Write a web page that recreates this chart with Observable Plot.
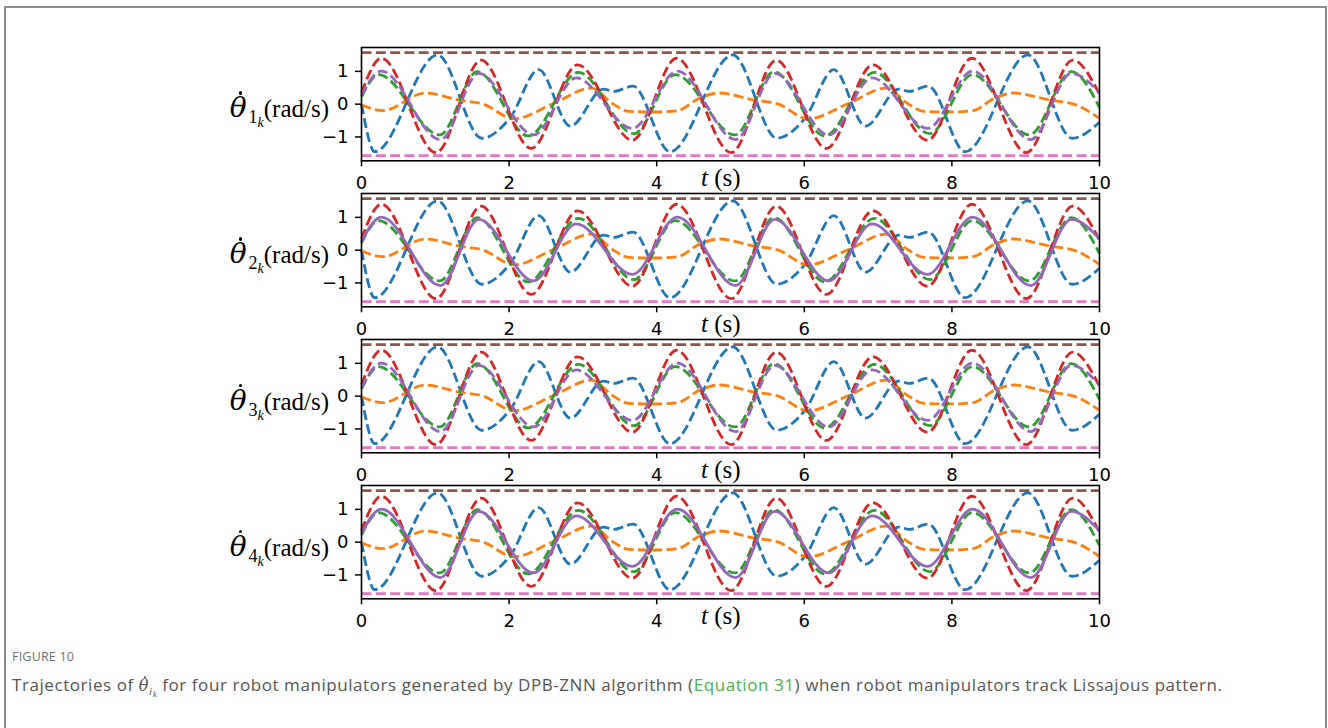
<!DOCTYPE html>
<html><head><meta charset="utf-8">
<script src="https://cdn.jsdelivr.net/npm/d3@7"></script>
<script src="https://cdn.jsdelivr.net/npm/@observablehq/plot@0.6"></script>
<style>
html,body{margin:0;padding:0;background:#fff;}
#border{position:absolute;left:4px;top:6px;width:1323px;height:760px;border:2px solid #8c8c8c;box-sizing:border-box;}
.chart{position:absolute;left:0;}
.chart text{font-family:"DejaVu Sans",sans-serif !important;}
.ylab{position:absolute;font-family:"Liberation Serif",serif;font-size:25px;line-height:25px;white-space:nowrap;color:#000;}
.th{position:relative;display:inline-block;font-family:"DejaVu Serif",serif;font-style:italic;font-size:28px;margin-right:2px;}
.th .dot{position:absolute;left:9px;top:-4px;width:3.8px;height:3.8px;border-radius:50%;background:#000;}
.xlab{position:absolute;font-family:"Liberation Serif",serif;font-size:25px;line-height:25px;white-space:nowrap;color:#000;}
.cap1{position:absolute;left:12px;top:648px;font-family:"Open Sans",sans-serif;font-size:12.5px;color:#707070;letter-spacing:0.2px;}
.cap2{position:absolute;left:12px;top:673px;font-family:"Open Sans",sans-serif;font-size:17px;letter-spacing:0.57px;color:#555;white-space:nowrap;}
.cap2 a{color:#4caf50;text-decoration:none;}
.cth{position:relative;display:inline-block;font-family:"DejaVu Serif",serif;font-style:italic;font-size:16px;}
.cth .cdot{position:absolute;left:5px;top:0px;width:2.2px;height:2.2px;border-radius:50%;background:#555;}
</style></head><body>
<div id="border"></div>
<div id="charts"></div>
<div class="cap1">FIGURE 10</div>
<div class="cap2">Trajectories of <span class="cth">θ<span class="cdot"></span></span><span style="position:relative;top:4px;font-size:11px;font-family:'Liberation Serif',serif"><i>i</i><span style="position:relative;top:2px;font-size:9px"><i>k</i></span></span> for four robot manipulators generated by DPB-ZNN algorithm (<a>Equation 31</a>) when robot manipulators track Lissajous pattern.</div>
<script>
// ---- data ----
const xTicks = [0, 2, 4, 6, 8, 10];
const yTicks = [-1, 0, 1];
const jointIndex = ["1", "2", "3", "4"];
const purpleSolid = [false, true, false, true];

const tBlue = [0, 0.18, 1.03, 1.63, 2.01, 2.40, 2.83, 3.28, 3.42, 3.68, 4.18, 5.03, 5.63, 6.01, 6.40, 6.83, 7.28, 7.42, 7.68, 8.18, 9.03, 9.63, 10];
const vBlue = [0, -1.45, 1.50, -1.04, -0.43, 1.05, -0.67, 0.46, 0.39, 0.55, -1.45, 1.50, -1.04, -0.43, 1.05, -0.67, 0.46, 0.39, 0.55, -1.45, 1.50, -1.04, -0.55];

const tOrange = [0, 0.29, 0.86, 1.33, 1.65, 2.07, 2.60, 3.12, 3.40, 3.62, 3.95, 4.28, 4.58, 4.84, 5.33, 5.65, 6.05, 6.60, 7.11, 7.40, 7.62, 7.95, 8.28, 8.58, 8.84, 9.33, 9.65, 10];
const vOrange = [-0.02, -0.20, 0.34, 0.12, 0.00, -0.45, 0.02, 0.49, 0.02, -0.22, -0.24, -0.20, 0.18, 0.34, 0.12, 0.00, -0.45, 0.02, 0.49, 0.02, -0.22, -0.24, -0.20, 0.18, 0.34, 0.12, 0.00, -0.43];

const tGreen = [0, 0.23, 1.06, 1.57, 2.26, 2.94, 3.69, 4.25, 5.06, 5.59, 6.28, 6.95, 7.70, 8.28, 9.05, 9.62, 10];
const vGreen = [0.22, 0.90, -0.94, 0.99, -0.97, 0.97, -0.90, 0.90, -0.94, 0.99, -0.97, 0.97, -0.90, 0.90, -0.94, 0.99, -0.10];

const tRed = [0, 0.27, 1.01, 1.62, 2.30, 2.93, 3.67, 4.27, 5.01, 5.62, 6.30, 6.93, 7.67, 8.27, 9.01, 9.64, 10];
const vRed = [0.35, 1.40, -1.48, 1.34, -1.35, 1.20, -1.10, 1.40, -1.48, 1.34, -1.35, 1.20, -1.10, 1.40, -1.48, 1.34, 0.30];

const tPurple = [0, 0.27, 1.07, 1.59, 2.33, 2.91, 3.67, 4.28, 5.07, 5.60, 6.33, 6.92, 7.67, 8.28, 9.07, 9.62, 10];
const vPurple = [0.27, 1.01, -1.08, 0.94, -0.94, 0.80, -0.74, 1.01, -1.08, 0.94, -0.94, 0.80, -0.74, 1.01, -1.08, 0.94, 0.35];

const tLimit = [0, 10];
const vUpper = [1.5708, 1.5708];
const vLower = [-1.5708, -1.5708];

const colors = {blue:"#1f77b4", orange:"#ff7f0e", green:"#2ca02c", red:"#d62728", purple:"#9467bd", brown:"#8c564b", pink:"#e377c2"};

// ---- layout ----
const W = 1328, left = 361, right = 1099;
const panelTop0 = 46.7, panelStep = 146.1, panelH = 113.3;
const mTop = 10, mBottom = 45;
const yDomain = [-1.5708 * 1.1, 1.5708 * 1.1];

function rows(ts, vs) { return ts.map((t, i) => ({t, v: vs[i]})); }
const series = [
  {name:"blue", d: rows(tBlue, vBlue)},
  {name:"orange", d: rows(tOrange, vOrange)},
  {name:"green", d: rows(tGreen, vGreen)},
  {name:"red", d: rows(tRed, vRed)},
  {name:"purple", d: rows(tPurple, vPurple)},
  {name:"brown", d: rows(tLimit, vUpper)},
  {name:"pink", d: rows(tLimit, vLower)}
];
const fmt = d => d < 0 ? "\u2212" + Math.abs(d) : String(d);
const container = document.getElementById("charts");

jointIndex.forEach((j, p) => {
  const top = panelTop0 + p * panelStep;
  const marks = [];
  series.forEach(s => {
    const solid = s.name === "purple" && purpleSolid[p];
    marks.push(Plot.line(s.d, {
      x: "t", y: "v", stroke: colors[s.name], strokeWidth: 2.8,
      strokeDasharray: solid ? null : "10,4.3", curve: "monotone-x", strokeLinecap: "butt"
    }));
  });
  marks.push(Plot.frame({stroke: "black", strokeWidth: 1.6}));
  marks.push(Plot.axisY({ticks: yTicks, tickFormat: fmt, tickSize: 6, tickPadding: 7, strokeWidth: 1.5, fontSize: 18, label: null}));
  marks.push(Plot.axisX({ticks: xTicks, tickFormat: fmt, tickSize: 6, tickPadding: 9, strokeWidth: 1.5, fontSize: 18, label: null}));
  const svg = Plot.plot({
    width: W, height: mTop + panelH + mBottom,
    marginLeft: left, marginRight: W - right, marginTop: mTop, marginBottom: mBottom,
    x: {domain: [0, 10]},
    y: {domain: yDomain},
    style: {background: "transparent", overflow: "visible", fontFamily: "DejaVu Sans", fontSize: "18px", color: "black"},
    marks
  });
  svg.classList.add("chart");
  svg.style.top = (top - mTop) + "px";
  svg.style.position = "absolute";
  container.appendChild(svg);

  const yl = document.createElement("div");
  yl.className = "ylab";
  yl.innerHTML = `<span class="th">θ<span class="dot"></span></span><span style="position:relative;top:6px;font-size:18px">${j}<span style="position:relative;top:4px;font-size:14px"><i>k</i></span></span>(rad/s)`;
  yl.style.right = (W - 329) + "px";
  yl.style.top = (top + panelH / 2 - 8) + "px";
  document.body.appendChild(yl);

  const xl = document.createElement("div");
  xl.className = "xlab";
  xl.innerHTML = `<i>t</i> (s)`;
  xl.style.left = "701px";
  xl.style.top = (top + panelH + 5) + "px";
  document.body.appendChild(xl);
});
</script>
</body></html>
